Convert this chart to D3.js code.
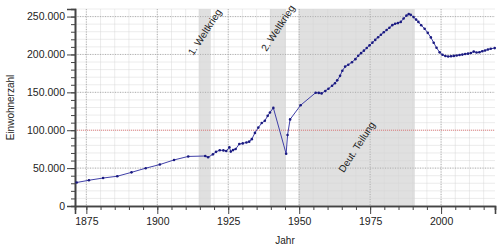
<!DOCTYPE html>
<html>
<head>
<meta charset="utf-8">
<script src="https://cdn.jsdelivr.net/npm/d3@7"></script>
<style>
  body { margin: 0; background: #fff; }
  text { font-family: "Liberation Sans", Arial, sans-serif; }
</style>
</head>
<body>
<div id="chart"></div>
<script>
// Einwohnerentwicklung, values
const years = [
    1871.6, 1875.9, 1880.9, 1885.9, 1890.9, 1895.9, 1900.9, 1905.9, 1910.9,
    1916.9, 1917.9, 1919.6, 1920.7, 1922.0, 1923.3, 1924.3, 1925.4, 1925.9,
    1926.7, 1927.6, 1928.9, 1930.1, 1931.4, 1932.4, 1933.3, 1934.4, 1935.6,
    1936.8, 1937.9, 1938.9, 1939.7, 1940.9, 1945.4, 1945.9, 1946.8, 1950.5,
    1955.8, 1956.9, 1957.9, 1959.2, 1960.3, 1961.6, 1962.6, 1963.4, 1964.4,
    1965.2, 1966.2, 1967.3, 1968.6, 1969.8, 1970.8, 1971.8, 1972.8, 1973.8,
    1974.8, 1975.8, 1976.8, 1977.8, 1978.8, 1979.8, 1980.8, 1981.8, 1982.8,
    1983.8, 1984.8, 1985.8, 1986.8, 1987.8, 1988.6, 1989.3, 1990.3, 1991.2,
    1992.0, 1993.0, 1994.2, 1995.3, 1996.4, 1997.4, 1998.4, 1999.5, 2000.5,
    2001.5, 2002.5, 2003.5, 2004.5, 2005.5, 2006.5, 2007.5, 2008.5, 2009.5,
    2010.5, 2011.5, 2012.5, 2013.5, 2014.5, 2015.5, 2016.5, 2017.5, 2018.9
];
const population = [
    31000, 34000, 36900, 39300, 44400, 49900, 54700, 60800, 65400,
    66000, 64300, 68200, 71500, 73600, 73400, 72500, 77500, 71800,
    73800, 75200, 81800, 82600, 83900, 84900, 88200, 96500, 103500,
    109500, 112500, 119000, 123500, 129500, 68900, 93700, 114300, 133000,
    149500, 149300, 148600, 151800, 154800, 158800, 162000, 165800, 171800,
    178500, 184000, 186500, 189800, 193800, 198300, 201700, 205000, 208600,
    212000, 215600, 219200, 222700, 226000, 229300, 232300, 235200, 238700,
    240500, 241400, 243000, 247500, 251300, 253300, 252400, 249300, 246000,
    243000, 238500, 234000, 228500, 222500, 215500, 208800, 202800, 199600,
    198000, 197400, 197600, 198100, 198600, 199200, 199800, 200700, 201100,
    202000, 203800, 202600, 203000, 204200, 205300, 206500, 207500, 208400
];

// shaded periods
const periodNames = ["1. Weltkrieg", "2. Weltkrieg", "Deut. Teilung"];
const periodStart = [1914.57, 1939.67, 1949.77];
const periodEnd = [1918.86, 1945.35, 1990.75];

const yTicks = [0, 50000, 100000, 150000, 200000, 250000];
const xTicks = [1875, 1900, 1925, 1950, 1975, 2000];
const threshold = 100000;

const data = years.map((y, i) => ({ year: y, value: population[i] }));

const width = 500, height = 250;
const margin = { top: 9, right: 5, bottom: 44, left: 75 };
const innerW = width - margin.left - margin.right;
const innerH = height - margin.top - margin.bottom;

const svg = d3.select("#chart")
    .append("svg")
    .attr("width", width)
    .attr("height", height);

const g = svg.append("g")
    .attr("transform", `translate(${margin.left},${margin.top})`);

const x = d3.scaleLinear()
    .domain([1871, 2019])
    .range([0, innerW]);

const y = d3.scaleLinear()
    .domain([0, 260000])
    .range([innerH, 0]);

// shaded periods
g.selectAll(".period")
    .data(periodNames)
    .enter()
    .append("rect")
    .attr("x", (d, i) => x(periodStart[i]))
    .attr("width", (d, i) => x(periodEnd[i]) - x(periodStart[i]))
    .attr("y", 0)
    .attr("height", innerH)
    .attr("fill", "#e0e0e0");

// minor grid
const minorX = d3.range(1875, 2019, 5);
const minorY = d3.range(0, 260001, 10000);

g.selectAll(".minor-x")
    .data(minorX)
    .enter()
    .append("line")
    .attr("x1", d => x(d)).attr("x2", d => x(d))
    .attr("y1", 0).attr("y2", innerH)
    .attr("stroke", "#d8d8d8")
    .attr("stroke-opacity", 0.6)
    .attr("stroke-width", 0.8);

g.selectAll(".minor-y")
    .data(minorY)
    .enter()
    .append("line")
    .attr("x1", 0).attr("x2", innerW)
    .attr("y1", d => y(d)).attr("y2", d => y(d))
    .attr("stroke", "#d8d8d8")
    .attr("stroke-opacity", 0.6)
    .attr("stroke-width", 0.8);

// major grid (dotted)
g.selectAll(".major-x")
    .data(xTicks)
    .enter()
    .append("line")
    .attr("x1", d => x(d)).attr("x2", d => x(d))
    .attr("y1", 0).attr("y2", innerH)
    .attr("stroke", "#aaa")
    .attr("stroke-width", 0.9)
    .attr("stroke-dasharray", "1,1.5");

g.selectAll(".major-y")
    .data(yTicks.filter(d => d > 0 && d !== threshold))
    .enter()
    .append("line")
    .attr("x1", 0).attr("x2", innerW)
    .attr("y1", d => y(d)).attr("y2", d => y(d))
    .attr("stroke", "#aaa")
    .attr("stroke-width", 0.9)
    .attr("stroke-dasharray", "1,1.5");

// Großstadt threshold
g.append("line")
    .attr("x1", 0).attr("x2", innerW)
    .attr("y1", y(threshold)).attr("y2", y(threshold))
    .attr("stroke", "#e04040")
    .attr("stroke-opacity", 0.8)
    .attr("stroke-width", 0.8)
    .attr("stroke-dasharray", "1,1");

// axes
const xAxisMinor = g.append("g")
    .attr("transform", `translate(0,${innerH})`)
    .call(d3.axisBottom(x).tickValues(minorX).tickSize(4).tickFormat(""));
const xAxis = g.append("g")
    .attr("transform", `translate(0,${innerH})`)
    .call(d3.axisBottom(x).tickValues(xTicks).tickSize(8).tickPadding(4).tickFormat(d3.format("d")));

const yAxisMinor = g.append("g")
    .call(d3.axisLeft(y).tickValues(minorY).tickSize(4).tickFormat(""));
const yAxis = g.append("g")
    .call(d3.axisLeft(y).tickValues(yTicks).tickSize(8).tickPadding(2)
        .tickFormat(d => d === 0 ? "0" : d3.format(",")(d).replace(/,/g, ".")));

[xAxisMinor, xAxis, yAxisMinor, yAxis].forEach(a => {
    a.select(".domain").attr("stroke", "#444").attr("stroke-width", 1.6);
    a.selectAll(".tick line").attr("stroke", "#444");
    a.selectAll("text")
        .attr("fill", "#222")
        .style("font-size", "10.5px")
        .style("font-family", "'Liberation Sans', Arial, sans-serif");
});

// population line
const line = d3.line()
    .x(d => x(d.year))
    .y(d => y(d.value));

g.append("path")
    .datum(data)
    .attr("fill", "none")
    .attr("stroke", "#4040a8")
    .attr("stroke-width", 1)
    .attr("d", line);

g.selectAll(".pt")
    .data(data)
    .enter()
    .append("circle")
    .attr("cx", d => x(d.year))
    .attr("cy", d => y(d.value))
    .attr("r", 1.3)
    .attr("fill", "#1a1a80");

// period labels
const labelY = [32, 28, 147];
g.selectAll(".period-label")
    .data(periodNames)
    .enter()
    .append("text")
    .attr("transform", (d, i) =>
        `translate(${x((periodStart[i] + periodEnd[i]) / 2)},${labelY[i] - margin.top}) rotate(-57)`)
    .attr("text-anchor", "middle")
    .attr("dy", "0.35em")
    .style("font-size", "10px")
    .attr("fill", "#222")
    .text(d => d);

// axis titles
svg.append("text")
    .attr("transform", `translate(14,${margin.top + innerH / 2}) rotate(-90)`)
    .attr("text-anchor", "middle")
    .style("font-size", "10px")
    .attr("fill", "#222")
    .text("Einwohnerzahl");

svg.append("text")
    .attr("x", 285)
    .attr("y", 244)
    .attr("text-anchor", "middle")
    .style("font-size", "10px")
    .attr("fill", "#222")
    .text("Jahr");
</script>
</body>
</html>
